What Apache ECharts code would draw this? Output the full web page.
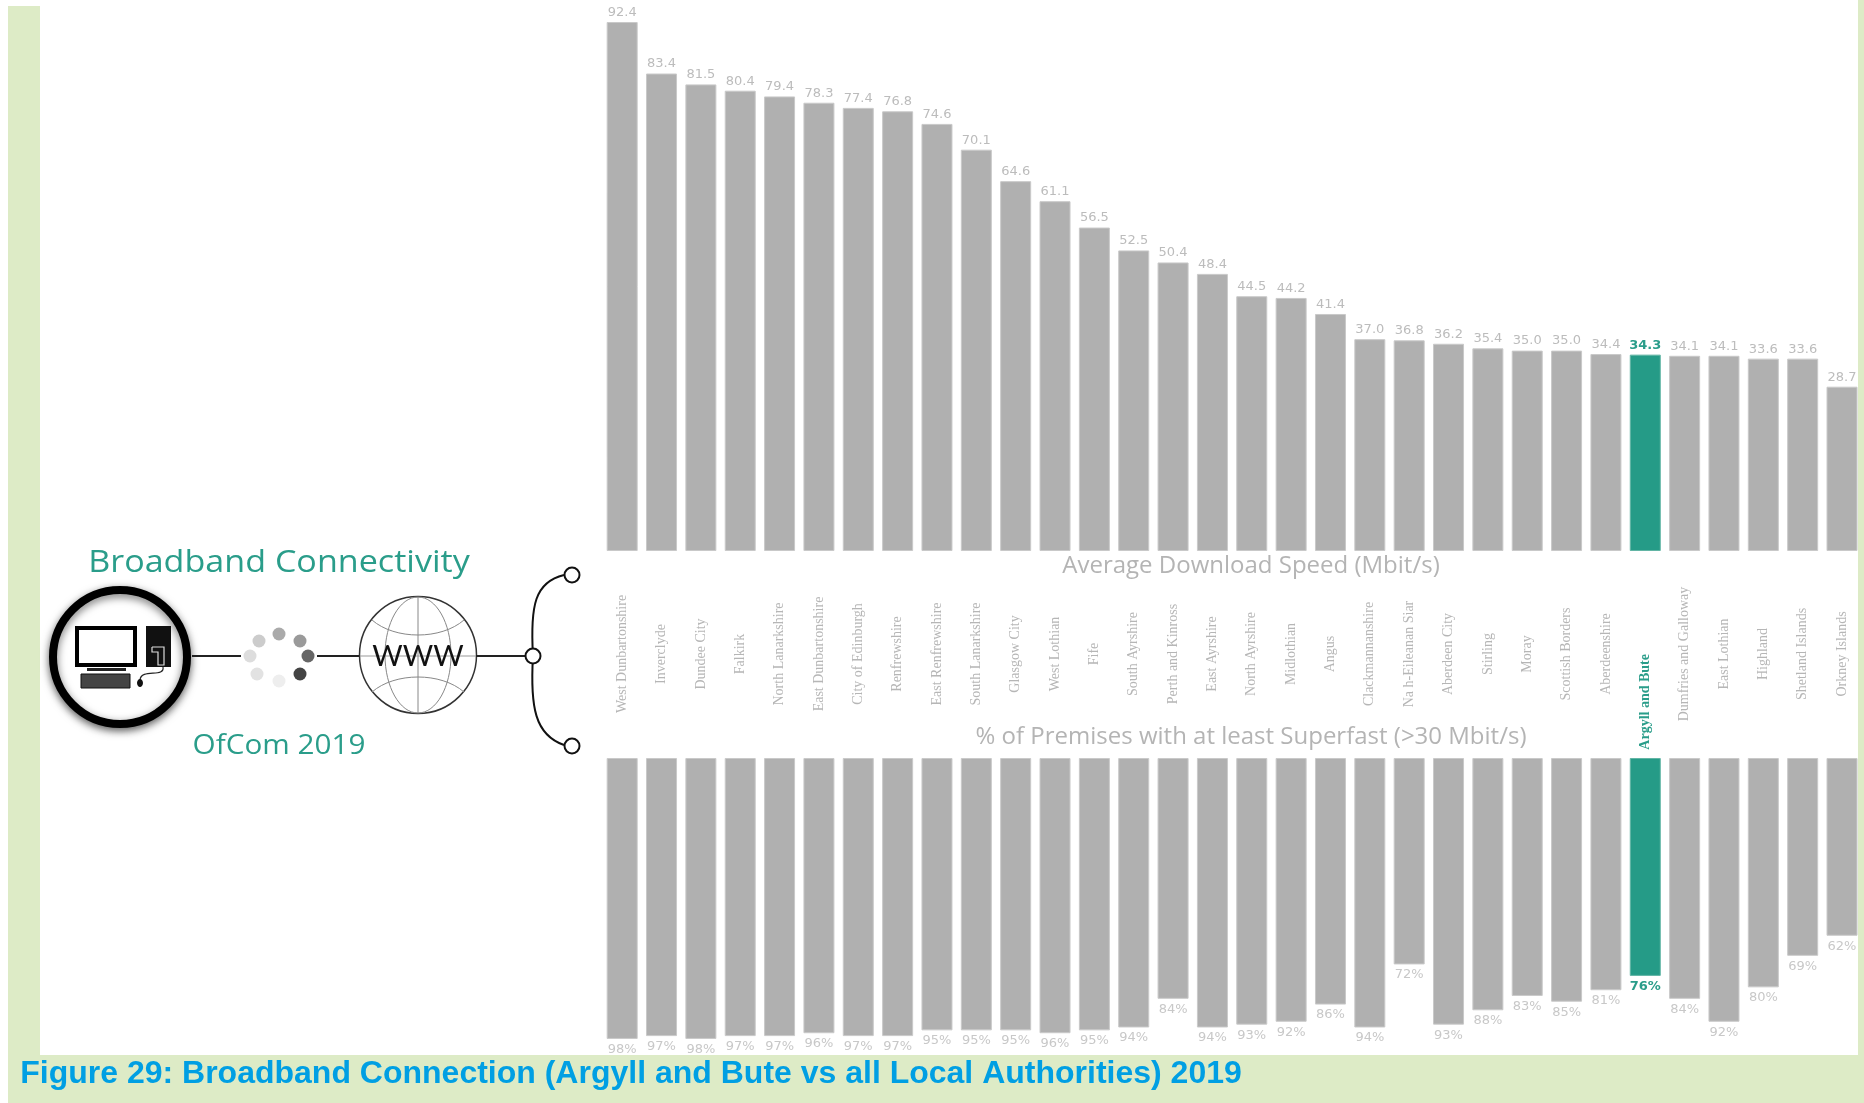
<!DOCTYPE html>
<html>
<head>
<meta charset="utf-8">
<style>html,body{margin:0;padding:0;background:#fff}#chart{width:1864px;height:1103px}</style>
<script src="https://cdn.jsdelivr.net/npm/echarts@6/dist/echarts.min.js"></script>
</head>
<body>
<div id="chart"></div>
<script>
// Local authorities, ordered by average download speed
const categories = ['West Dunbartonshire','Inverclyde','Dundee City','Falkirk','North Lanarkshire','East Dunbartonshire','City of Edinburgh','Renfrewshire','East Renfrewshire','South Lanarkshire','Glasgow City','West Lothian','Fife','South Ayrshire','Perth and Kinross','East Ayrshire','North Ayrshire','Midlothian','Angus','Clackmannanshire','Na h-Eileanan Siar','Aberdeen City','Stirling','Moray','Scottish Borders','Aberdeenshire','Argyll and Bute','Dumfries and Galloway','East Lothian','Highland','Shetland Islands','Orkney Islands'];
const downloadSpeed = [92.4,83.4,81.5,80.4,79.4,78.3,77.4,76.8,74.6,70.1,64.6,61.1,56.5,52.5,50.4,48.4,44.5,44.2,41.4,37.0,36.8,36.2,35.4,35.0,35.0,34.4,34.3,34.1,34.1,33.6,33.6,28.7];
const superfastShare = [98,97,98,97,97,96,97,97,95,95,95,96,95,94,84,94,93,92,86,94,72,93,88,83,85,81,76,84,92,80,69,62];
const highlighted = 'Argyll and Bute';

const TEAL = '#259b87', GREY = '#b0b0b0', PANEL = '#ddebc6';
const LABEL_FONT = 'DejaVu Sans', TITLE_FONT = '"Open Sans"';

const barData = (values, suffixColor) => values.map((v, i) => {
  const hit = categories[i] === highlighted;
  return {
    value: v,
    itemStyle: { color: hit ? TEAL : GREY, borderColor: hit ? '#62b5a5' : '#c9c9c9', borderWidth: 1 },
    label: { color: hit ? '#2a9d8a' : suffixColor, fontWeight: hit ? 'bold' : 'normal' }
  };
});

const stroke = (width, color) => ({ stroke: color || '#000', lineWidth: width, fill: null });
const seg = (x1, y1, x2, y2, width, color) => ({ type: 'line', shape: { x1, y1, x2, y2 }, style: stroke(width, color), z: 20 });
const txt = (text, x, y, size, color, font, scaleX, weight) => ({
  type: 'text', x, y, scaleX: scaleX || 1, z: 30,
  style: { text, fontSize: size, fill: color, fontFamily: font, fontWeight: weight || 'normal', textAlign: 'center', textVerticalAlign: 'middle' }
});

// Loader ring between the computer and the globe, light to dark
const ringDots = [[279,634,'#aaaaaa'],[300,641,'#9a9a9a'],[308,656,'#666666'],[300,674,'#444444'],[279,681,'#eeeeee'],[257,674,'#e2e2e2'],[250,656,'#dddddd'],[259,641,'#cccccc']];

const illustration = [
  // Page panels
  { type: 'rect', shape: { x: 8, y: 6, width: 32, height: 1060 }, style: { fill: PANEL }, z: 10 },
  { type: 'rect', shape: { x: 8, y: 1055, width: 1856, height: 48 }, style: { fill: PANEL }, z: 10 },
  { type: 'rect', shape: { x: 1858, y: 0, width: 6, height: 1103 }, style: { fill: PANEL }, z: 10 },

  // Computer badge
  { type: 'circle', shape: { cx: 120, cy: 657, r: 67 }, style: { fill: '#fff', stroke: '#000', lineWidth: 8, shadowBlur: 8, shadowColor: 'rgba(0,0,0,0.55)', shadowOffsetY: 3 }, z: 20 },
  { type: 'rect', shape: { x: 77, y: 628, width: 58, height: 37 }, style: { fill: '#fff', stroke: '#000', lineWidth: 4 }, z: 21 },
  { type: 'rect', shape: { x: 87, y: 668, width: 39, height: 3 }, style: { fill: '#222' }, z: 21 },
  { type: 'rect', shape: { x: 81, y: 674, width: 49, height: 14 }, style: { fill: '#444', stroke: '#111', lineWidth: 1 }, z: 21 },
  { type: 'rect', shape: { x: 146, y: 626, width: 25, height: 41 }, style: { fill: '#111' }, z: 21 },
  seg(149, 631, 168, 631, 1.5, '#aaa'), seg(149, 634, 168, 634, 1.5, '#aaa'),
  { type: 'polyline', shape: { points: [[152,647],[164,647],[164,665],[158,665],[158,652],[152,652],[152,647]] }, style: stroke(1.2, '#ddd'), z: 22 },
  { type: 'bezierCurve', shape: { x1: 163, y1: 667, cpx1: 165, cpy1: 678, cpx2: 141, cpy2: 668, x2: 140, y2: 680 }, style: stroke(1.2, '#222'), z: 21 },
  { type: 'ellipse', shape: { cx: 140, cy: 683, rx: 3, ry: 4 }, style: { fill: '#111' }, z: 21 },

  // Link from the computer to the loader ring
  seg(192, 656, 241, 656, 2, '#222'),
  ...ringDots.map(([cx, cy, fill]) => ({ type: 'circle', shape: { cx, cy, r: 6.5 }, style: { fill }, z: 20 })),
  seg(317, 656, 360, 656, 2, '#222'),

  // Globe
  { type: 'circle', shape: { cx: 418, cy: 655, r: 58.5 }, style: { fill: '#fff', stroke: '#333', lineWidth: 1.5 }, z: 20 },
  { type: 'ellipse', shape: { cx: 418, cy: 655, rx: 33, ry: 58 }, style: stroke(1, '#888'), z: 21 },
  seg(418, 597, 418, 713, 1, '#888'),
  seg(360, 656, 476, 656, 1, '#999'),
  { type: 'bezierCurve', shape: { x1: 372, y1: 620, cpx1: 395, cpy1: 640, cpx2: 441, cpy2: 640, x2: 464, y2: 620 }, style: stroke(1, '#888'), z: 21 },
  { type: 'bezierCurve', shape: { x1: 372, y1: 692, cpx1: 395, cpy1: 672, cpx2: 441, cpy2: 672, x2: 464, y2: 692 }, style: stroke(1, '#888'), z: 21 },
  txt('WWW', 418, 657, 28, '#111', 'Lato', 1.05),

  // Bracket leading out to the two charts
  seg(476, 656, 525, 656, 2, '#222'),
  { type: 'bezierCurve', shape: { x1: 533, y1: 656, cpx1: 530, cpy1: 605, cpx2: 535, cpy2: 582, x2: 564, y2: 575 }, style: stroke(2, '#111'), z: 21 },
  { type: 'bezierCurve', shape: { x1: 533, y1: 656, cpx1: 530, cpy1: 707, cpx2: 535, cpy2: 735, x2: 564, y2: 745 }, style: stroke(2, '#111'), z: 21 },
  { type: 'circle', shape: { cx: 533, cy: 656, r: 7.5 }, style: { fill: '#fff', stroke: '#111', lineWidth: 2 }, z: 22 },
  { type: 'circle', shape: { cx: 572, cy: 575, r: 7.5 }, style: { fill: '#fff', stroke: '#111', lineWidth: 2 }, z: 22 },
  { type: 'circle', shape: { cx: 572, cy: 746, r: 7.5 }, style: { fill: '#fff', stroke: '#111', lineWidth: 2 }, z: 22 },

  // Headings
  txt('Broadband Connectivity', 279, 563, 31, '#2a9d8a', TITLE_FONT, 1.1),
  txt('OfCom 2019', 279, 746, 27, '#2a9d8a', TITLE_FONT, 1.1),
  txt('Average Download Speed (Mbit/s)', 1251, 566, 24, '#b4b4b4', TITLE_FONT, 1),
  txt('% of Premises with at least Superfast (>30 Mbit/s)', 1251, 737, 24, '#b4b4b4', TITLE_FONT, 1),
  txt('Figure 29: Broadband Connection (Argyll and Bute vs all Local Authorities) 2019', 631, 1074, 32, '#009fe3', '"Liberation Sans"', 1, 'bold')
];

const chart = echarts.init(document.getElementById('chart'), null, { renderer: 'canvas' });
chart.setOption({
  animation: false,
  backgroundColor: '#fff',
  grid: [
    { left: 602.5, width: 1259.2, top: 22, height: 529 },
    { left: 602.5, width: 1259.2, top: 758, height: 286.7 }
  ],
  xAxis: [
    {
      type: 'category', gridIndex: 0,
      data: categories.map(name => name === highlighted
        ? { value: name, textStyle: { color: '#2a9d8a', fontWeight: 'bold' } }
        : { value: name }),
      axisLine: { show: false }, axisTick: { show: false },
      axisLabel: {
        interval: 0, rotate: 90, margin: 103, align: 'center', verticalAlign: 'middle',
        color: '#b6b6b6', fontSize: 14, fontFamily: '"Liberation Sans Narrow"'
      }
    },
    { type: 'category', gridIndex: 1, data: categories, show: false }
  ],
  yAxis: [
    { type: 'value', gridIndex: 0, min: 0, max: 92.4, show: false },
    { type: 'value', gridIndex: 1, min: 0, max: 100, inverse: true, show: false }
  ],
  series: [
    {
      type: 'bar', xAxisIndex: 0, yAxisIndex: 0, barWidth: 31,
      data: barData(downloadSpeed, '#bcbcbc'),
      label: { show: true, position: 'top', distance: 3, fontSize: 13, fontFamily: LABEL_FONT, formatter: p => p.value.toFixed(1) }
    },
    {
      type: 'bar', xAxisIndex: 1, yAxisIndex: 1, barWidth: 31,
      data: barData(superfastShare, '#c8c8c8'),
      label: { show: true, position: 'bottom', distance: 4, fontSize: 13, fontFamily: LABEL_FONT, formatter: p => p.value + '%' }
    }
  ],
  graphic: { elements: illustration }
});
</script>
</body>
</html>
